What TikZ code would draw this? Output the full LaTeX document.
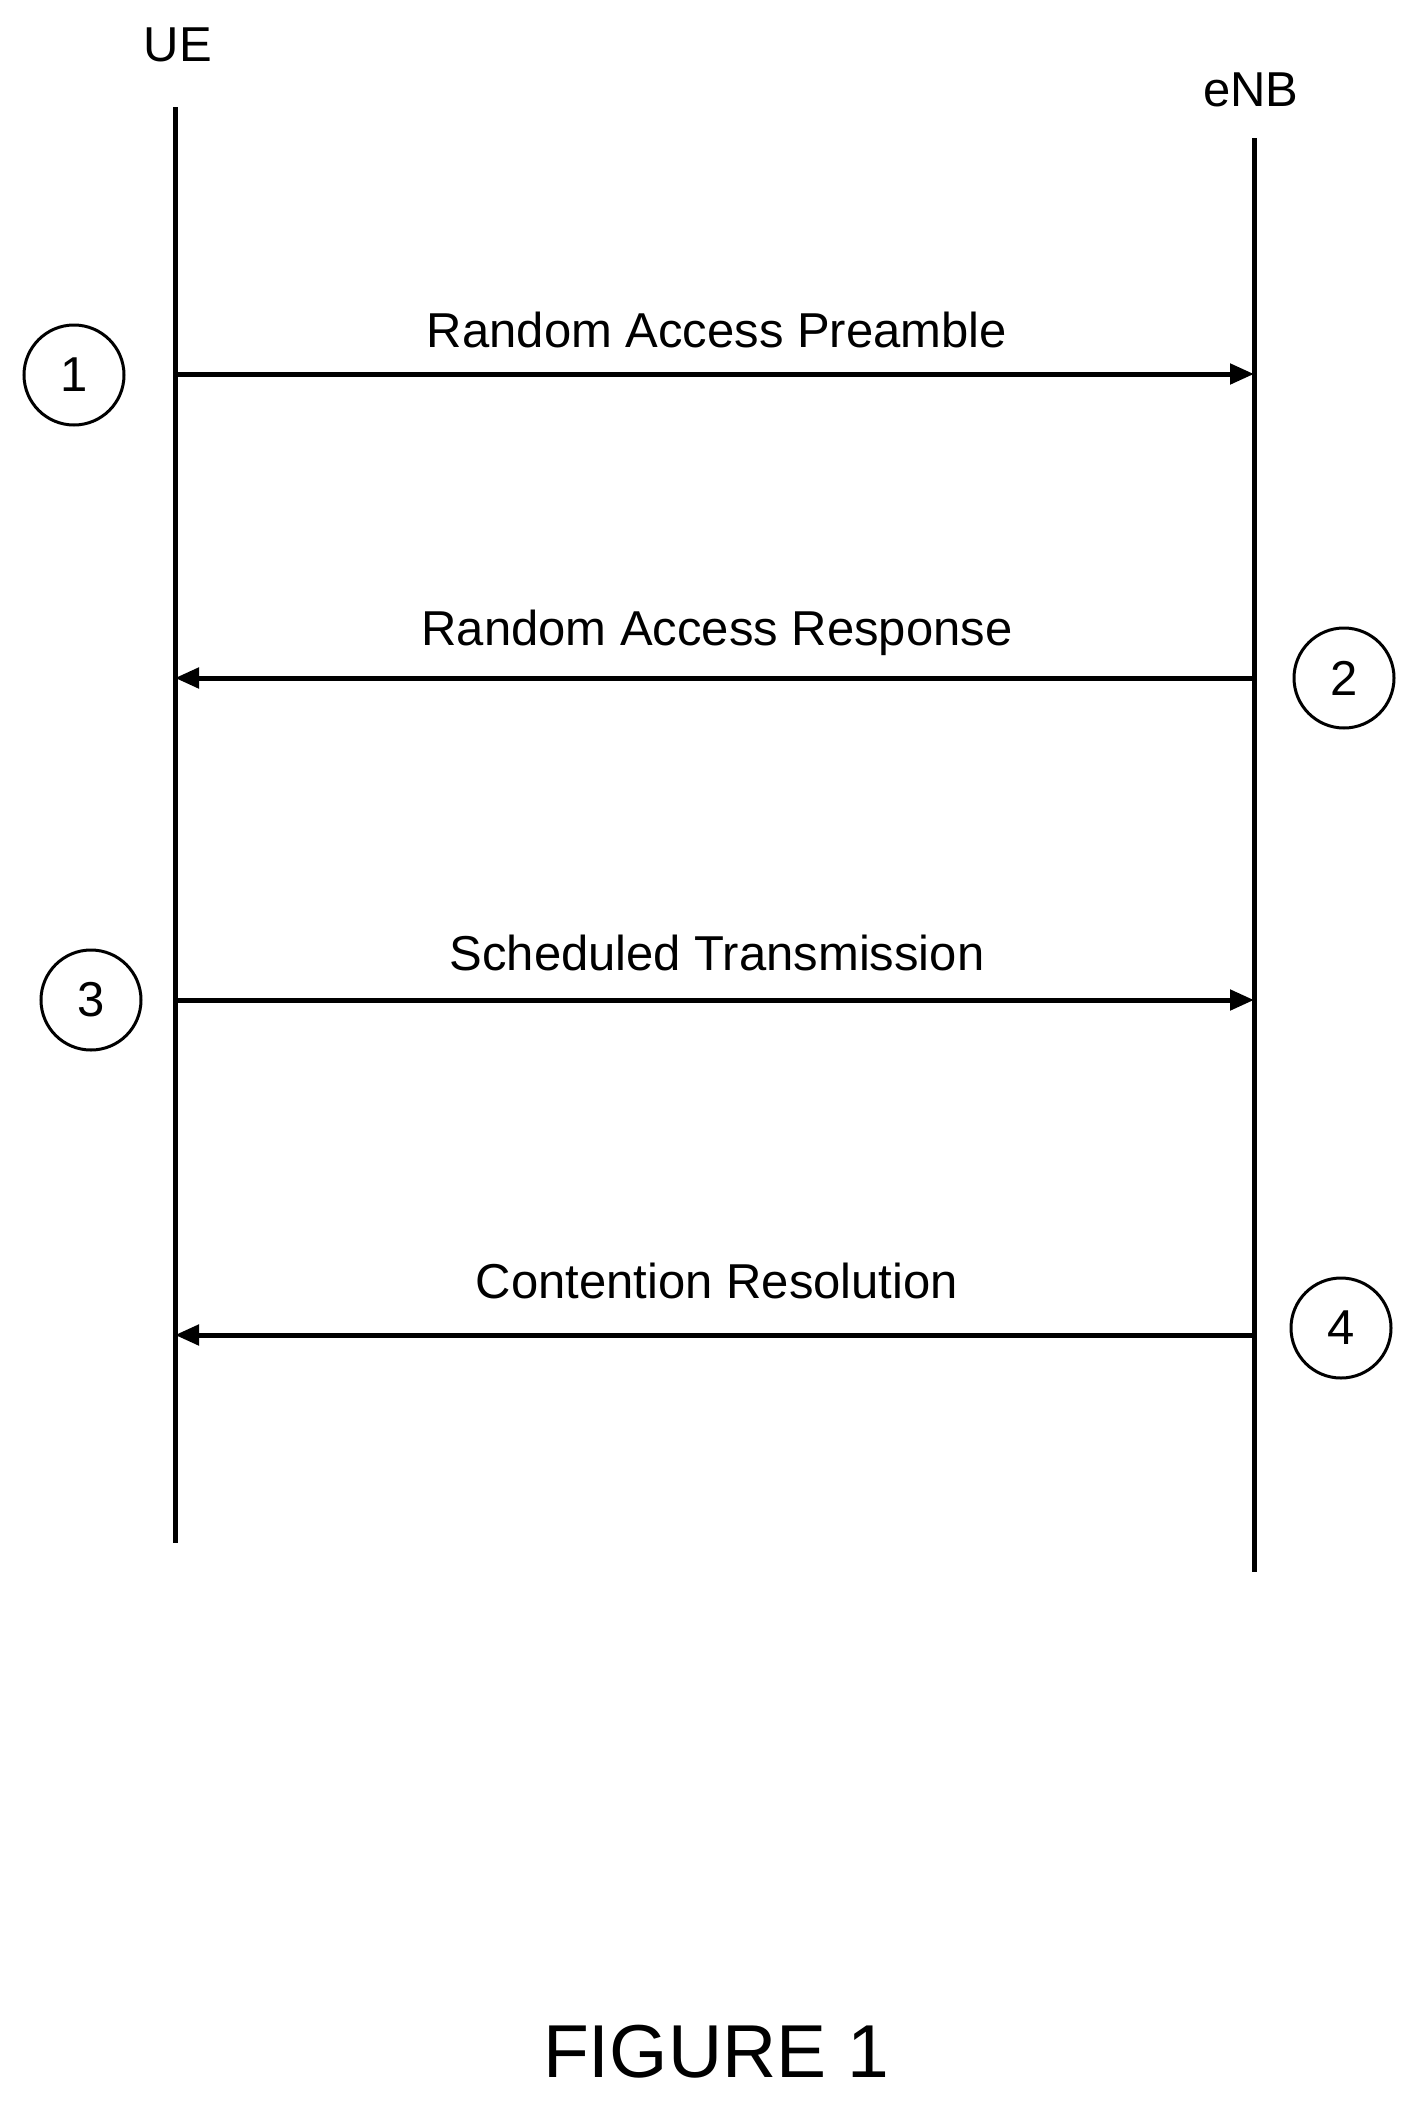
\documentclass[tikz,border=0pt]{standalone}
\usepackage{fontspec}
\setmainfont{Liberation Sans}
\usetikzlibrary{arrows.meta}
\begin{document}
\begin{tikzpicture}[x=1pt,y=-1pt,
  life/.style={line width=5pt},
  msg/.style={line width=5pt,-{Triangle[length=24pt,width=20pt]}},
  lbl/.style={font=\fontsize{49}{54}\selectfont,inner sep=0pt},
  num/.style={circle,draw,line width=3pt,minimum size=100pt,inner sep=0pt,font=\fontsize{49}{54}\selectfont}]
\useasboundingbox (0,0) rectangle (1418,2101);
\node[lbl] (ue) at (178,45) {UE};
\node[lbl] (enb) at (1251,90) {eNB};
\coordinate (ueT) at (175,107); \coordinate (ueB) at (175,1543);
\coordinate (enT) at (1254,138); \coordinate (enB) at (1254,1572);
\draw[life] (ueT) -- (ueB);
\draw[life] (enT) -- (enB);
\coordinate (a1) at (175,374); \coordinate (b1) at (1254,374);
\coordinate (a2) at (175,678); \coordinate (b2) at (1254,678);
\coordinate (a3) at (175,1000); \coordinate (b3) at (1254,1000);
\coordinate (a4) at (175,1335); \coordinate (b4) at (1254,1335);
\draw[msg] (a1) -- (b1);
\draw[msg] (b2) -- (a2);
\draw[msg] (a3) -- (b3);
\draw[msg] (b4) -- (a4);
\node[lbl] (l1) at (717,330) {Random Access Preamble};
\node[lbl] (l2) at (717,633) {Random Access Response};
\node[lbl] (l3) at (717,953) {Scheduled Transmission};
\node[lbl] (l4) at (717,1281) {Contention Resolution};
\node[num] (n1) at (74,375) {1};
\node[num] (n2) at (1344,678) {2};
\node[num] (n3) at (91,1000) {3};
\node[num] (n4) at (1341,1328) {4};
\node[lbl,font=\fontsize{75}{80}\selectfont] (fig) at (716,2052) {FIGURE 1};
\end{tikzpicture}
\end{document}
